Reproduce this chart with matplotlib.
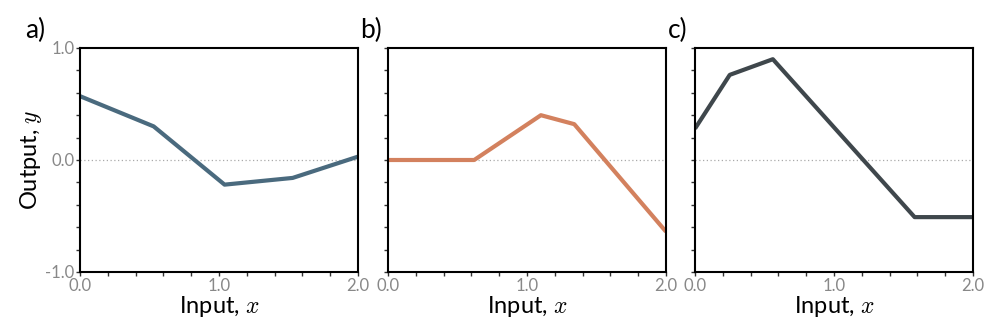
import matplotlib
matplotlib.use("Agg")
import matplotlib.pyplot as plt
from matplotlib.ticker import MultipleLocator

plt.rcParams["font.family"] = ["Lato", "DejaVu Sans"]
plt.rcParams["mathtext.fontset"] = "cm"

# Piecewise-linear outputs for the three panels
x_a = [0.0, 0.53, 1.04, 1.53, 2.0]
y_a = [0.57, 0.30, -0.22, -0.16, 0.03]

x_b = [0.0, 0.62, 1.10, 1.34, 2.0]
y_b = [0.0, 0.0, 0.40, 0.32, -0.64]

x_c = [0.0, 0.25, 0.56, 1.58, 2.0]
y_c = [0.28, 0.76, 0.90, -0.51, -0.51]

panels = [
    ("a)", x_a, y_a, "#4a6a7e"),
    ("b)", x_b, y_b, "#d3815e"),
    ("c)", x_c, y_c, "#3f474c"),
]

fig = plt.figure(figsize=(9.98, 3.35), dpi=100)
lefts = [80, 388, 695]
tag_x = [25, 360, 668]
for i, (tag, xs, ys, col) in enumerate(panels):
    ax = fig.add_axes([lefts[i] / 998, 63 / 335, 278 / 998, 224 / 335])
    ax.axhline(0, color="#aaaaaa", lw=0.9, ls=(0, (1, 2)), zorder=1)
    ax.plot(xs, ys, color=col, lw=3, zorder=2, solid_capstyle="butt")
    ax.set_xlim(0, 2)
    ax.set_ylim(-1, 1)
    ax.set_xticks([0, 1, 2])
    ax.set_xticklabels(["0.0", "1.0", "2.0"])
    ax.set_yticks([-1, 0, 1])
    ax.xaxis.set_minor_locator(MultipleLocator(0.2))
    ax.yaxis.set_minor_locator(MultipleLocator(0.2))
    ax.tick_params(which="both", direction="out", length=3, width=1, colors="#333333",
                   labelcolor="#888888", labelsize=12, pad=1)
    for s in ax.spines.values():
        s.set_linewidth(1.5)
    if i == 0:
        ax.set_yticklabels(["-1.0", "0.0", "1.0"])
        ax.set_ylabel("Output, $y$", fontsize=17, labelpad=1)
    else:
        ax.set_yticklabels([])
    ax.set_xlabel("Input, $x$", fontsize=17, labelpad=0)
    fig.text(tag_x[i] / 998, 1 - 30 / 335, tag, fontsize=19, va="center", ha="left")

fig.savefig("out.png", dpi=100)
